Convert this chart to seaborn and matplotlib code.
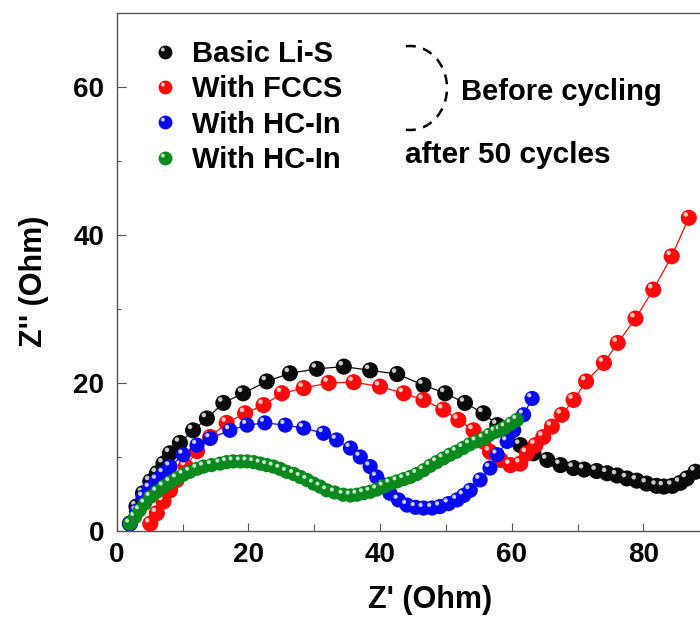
import numpy as np
import seaborn as sns
import matplotlib.pyplot as plt
import matplotlib.colors as mcolors
from matplotlib.path import Path
from matplotlib.patches import Arc
from matplotlib.lines import Line2D
from matplotlib.transforms import Affine2D

# Nyquist data: Z' (Ohm) and Z'' (Ohm)
basic_x = [2.0, 3.0, 4.0, 5.1, 6.1, 7.1, 8.1, 9.6, 11.6, 13.7, 16.2, 19.2, 22.8, 26.3, 30.4, 34.5,
           38.5, 42.6, 46.6, 49.9, 52.9, 55.7, 57.8, 59.5, 61.3, 63.3, 65.4, 67.4, 69.4, 71.0, 72.9,
           74.5, 76.0, 77.5, 79.0, 80.5, 82.0, 83.1, 84.4, 85.6, 86.6, 87.9]
basic_y = [1.0, 3.3, 5.1, 6.7, 7.8, 9.1, 10.5, 11.9, 13.6, 15.2, 17.3, 18.6, 20.2, 21.3, 21.9, 22.2,
           21.7, 21.2, 19.7, 18.6, 17.3, 15.9, 14.3, 13.2, 11.6, 10.5, 9.6, 8.9, 8.5, 8.3, 8.1,
           7.8, 7.5, 7.1, 6.8, 6.4, 6.1, 6.0, 6.1, 6.5, 7.1, 8.0]

fccs_x = [5.1, 6.1, 7.1, 8.1, 9.1, 10.5, 12.2, 14.2, 16.7, 19.5, 22.3, 25.1, 28.4, 32.2, 36.0, 40.0,
          43.6, 46.6, 49.6, 51.9, 54.2, 55.7, 56.7, 58.3, 59.8, 61.3, 62.3, 63.6, 64.8, 66.1, 67.6,
          69.4, 71.3, 74.0, 76.1, 78.8, 81.5, 84.3, 86.9]
fccs_y = [1.0, 2.4, 4.0, 5.5, 6.9, 8.7, 10.8, 12.7, 14.6, 15.9, 17.0, 18.6, 19.3, 20.0, 20.1, 19.5,
          18.6, 17.7, 16.4, 15.0, 13.6, 12.1, 10.7, 9.6, 8.9, 9.1, 10.5, 11.6, 12.7, 14.1, 15.7,
          17.7, 20.2, 22.7, 25.4, 28.7, 32.6, 37.1, 42.3]

hcin_x = [2.0, 3.0, 4.0, 5.0, 6.1, 7.1, 8.1, 10.1, 12.2, 14.2, 17.2, 19.8, 22.5, 25.6, 28.4, 31.4,
          33.4, 35.5, 37.0, 38.5, 39.5, 40.5, 41.5, 42.8, 44.1, 45.4, 46.6, 47.9, 49.1, 50.4, 51.7,
          52.7, 53.7, 55.2, 56.7, 57.8, 59.3, 60.3, 61.8, 63.1]
hcin_y = [1.0, 2.7, 4.6, 5.8, 6.9, 7.8, 8.7, 10.3, 11.6, 12.5, 13.6, 14.3, 14.6, 14.3, 13.9, 13.2,
          12.3, 11.2, 10.0, 8.7, 7.3, 6.2, 5.1, 4.2, 3.5, 3.2, 3.1, 3.1, 3.3, 3.7, 4.2,
          4.8, 5.5, 6.9, 8.5, 10.3, 12.1, 13.6, 15.7, 17.9]

cyc_x = [2.0, 2.8, 3.5, 4.3, 5.1, 6.1, 7.1, 8.1, 9.1, 10.1, 11.1, 12.2, 13.2, 14.4, 15.7, 16.7, 17.7,
         18.8, 19.8, 20.8, 21.8, 22.8, 23.8, 24.8, 25.8, 26.9, 27.9, 28.9, 29.9, 30.9, 31.9, 33.1,
         34.4, 35.5, 36.5, 37.5, 38.5, 39.5, 40.5, 41.5, 42.6, 43.6, 44.6, 45.6, 46.6, 47.6, 48.6,
         49.6, 50.6, 51.6, 52.6, 53.6, 54.6, 55.7, 56.6, 57.5, 58.3, 59.0, 59.9, 60.8]
cyc_y = [1.0, 1.9, 2.8, 3.7, 4.6, 5.3, 6.0, 6.6, 7.1, 7.6, 8.0, 8.4, 8.7, 8.9, 9.1, 9.3, 9.4,
         9.4, 9.4, 9.3, 9.1, 8.9, 8.7, 8.4, 8.0, 7.7, 7.3, 6.9, 6.4, 6.0, 5.5, 5.2,
         4.9, 4.8, 4.9, 5.1, 5.3, 5.6, 6.0, 6.4, 6.7, 7.0, 7.3, 7.7, 8.2, 8.8, 9.3,
         9.8, 10.3, 10.7, 11.2, 11.7, 12.1, 12.5, 13.0, 13.4, 13.6, 14.0, 14.5, 15.0]

labels = ["Basic Li-S", "With FCCS", "With HC-In", "With HC-In"]
colors = ["#0a0a0a", "#ff0a0a", "#0a0af0", "#0a8a1e"]
sizes = [135, 135, 120, 105]

sns.set_style("ticks")
plt.rcParams['font.family'] = ['Liberation Sans', 'DejaVu Sans']
plt.rcParams['font.weight'] = 'bold'
plt.rcParams['text.color'] = 'black'
plt.rcParams['axes.labelcolor'] = 'black'

# ball look: a body circle plus a small shine spot up-left
BODY = Path.unit_circle().transformed(Affine2D().scale(0.5))
SHINE = Path.circle((-0.19, 0.21), 0.14)


def shine_of(color):
    c = np.array(mcolors.to_rgb(color))
    return tuple(0.22 * c + 0.78)


def draw_balls(ax, x, y, color, size, z):
    sns.lineplot(x=x, y=y, sort=False, estimator=None, color=color, lw=0.9, ax=ax, zorder=z)
    sns.scatterplot(x=np.repeat(x, 2), y=np.repeat(y, 2), s=size, color=color,
                    linewidth=0, ax=ax, zorder=z + 1)
    coll = ax.collections[-1]
    coll.set_paths([BODY, SHINE])
    coll.set_facecolor([color, shine_of(color)] * len(x))


fig = plt.figure(figsize=(7, 6.21), dpi=100)
ax = fig.add_axes([116.7 / 700, 90 / 621, 583.3 / 700, 518.3 / 621])

series = [(basic_x, basic_y), (fccs_x, fccs_y), (hcin_x, hcin_y), (cyc_x, cyc_y)]
for i, (xs, ys) in enumerate(series):
    draw_balls(ax, np.array(xs), np.array(ys), colors[i], sizes[i], 2 + 2 * i)

ax.set_xlim(0, 88.6)
ax.set_ylim(0, 70)
ax.set_xticks([0, 20, 40, 60, 80])
ax.set_xticks([10, 30, 50, 70], minor=True)
ax.set_yticks([0, 20, 40, 60])
ax.set_yticks([10, 30, 50], minor=True)
ax.tick_params(axis='both', which='both', direction='in', width=0.8, color='#555555',
               labelsize=20, labelcolor='black')
ax.tick_params(axis='x', which='major', length=5.5, pad=8)
ax.tick_params(axis='x', which='minor', length=4.8)
ax.tick_params(axis='y', which='major', length=6.5, pad=9)
ax.tick_params(axis='y', which='minor', length=3)
for side in ['left', 'bottom', 'top']:
    ax.spines[side].set_color('#555555')
    ax.spines[side].set_linewidth(1)
ax.spines['right'].set_visible(False)

ax.set_xlabel("Z' (Ohm)", fontsize=22, fontweight='bold')
ax.xaxis.set_label_coords(0.537, -0.104)
ax.xaxis.label.set_va('top')
ax.set_ylabel("Z'' (Ohm)", fontsize=22, fontweight='bold')
ax.yaxis.set_label_coords(-0.116, 0.482)

# legend with ball markers (the lone moveto keeps the spot at body scale)
shine_marker = Path.make_compound_path(Path.circle((-0.19, 0.21), 0.14),
                                       Path([(0.5, 0.5)], [Path.MOVETO]))
handles = []
for c in colors:
    body = Line2D([], [], marker='o', ls='none', color=c, markersize=10, markeredgewidth=0)
    spot = Line2D([], [], marker=shine_marker, ls='none', color=shine_of(c),
                  markersize=10, markeredgewidth=0)
    handles.append((body, spot))
leg = ax.legend(handles, labels, loc='upper left', bbox_to_anchor=(150 / 700, 1 - 40 / 621),
                bbox_transform=fig.transFigure, frameon=False, borderpad=0, borderaxespad=0,
                handlelength=1.0, handletextpad=0.45, labelspacing=0.25,
                prop={'size': 21, 'weight': 'bold'})
for t in leg.get_texts():
    t.set_color('black')

# bracket and group notes
fig.add_artist(Arc((410 / 700, 1 - 88 / 621), 74 / 700, 84 / 621, theta1=-95, theta2=95,
                   transform=fig.transFigure, color='black', lw=1.8, ls=(0, (4, 3))))
fig.text(461 / 700, 1 - 92 / 621, "Before cycling", fontsize=21, fontweight='bold', va='center')
fig.text(405 / 700, 1 - 155 / 621, "after 50 cycles", fontsize=21.5, fontweight='bold', va='center')

fig.savefig("out.png", dpi=100)
